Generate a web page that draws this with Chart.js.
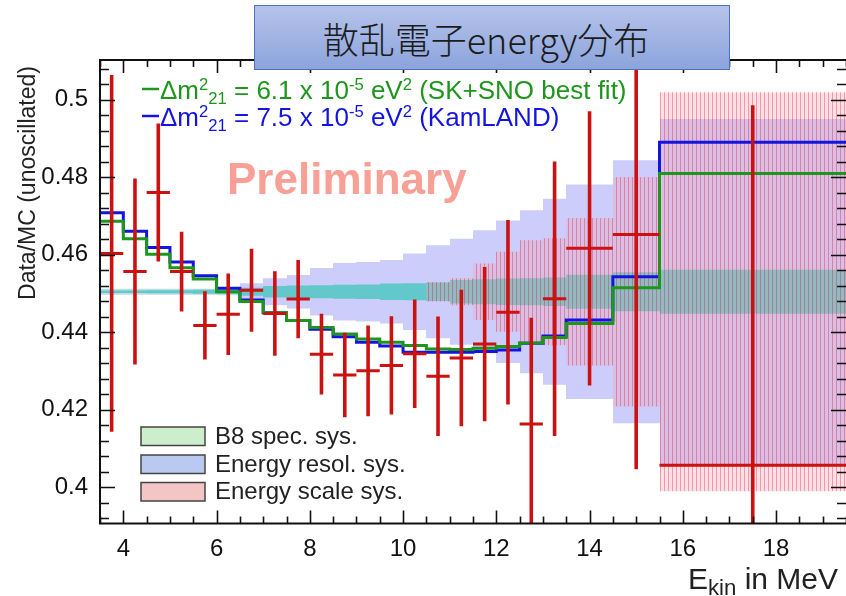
<!DOCTYPE html>
<html>
<head>
<meta charset="utf-8">
<script src="https://cdn.jsdelivr.net/npm/chart.js@4/dist/chart.umd.min.js"></script>
<style>
  html, body { margin: 0; padding: 0; background: #fff; }
  #wrap { position: relative; width: 846px; height: 596px; overflow: hidden; }
  #c { position: absolute; left: 0; top: 0; }
  #title {
    position: absolute; left: 254px; top: 5px; width: 476px; height: 65px;
    box-sizing: border-box; border: 1px solid #4d72c2;
    background: linear-gradient(#b5c3ea, #8ca4dc);
    font-family: "Noto Sans CJK JP", sans-serif; font-weight: 300; font-size: 36px; color: #1c1c1c;
    display: flex; align-items: center; justify-content: center; padding-right: 12px;
  }
</style>
</head>
<body>
<div id="wrap">
  <canvas id="c" width="846" height="596"></canvas>
  <div id="title">散乱電子energy分布</div>
</div>
<script>
// Bin edges of the kinetic-energy histogram (MeV)
const binEdges = [3.5, 4, 4.5, 5, 5.5, 6, 6.5, 7, 7.5, 8, 8.5, 9, 9.5, 10, 10.5, 11, 11.5, 12, 12.5, 13, 13.5, 14.5, 15.5, 19.5];

// Measured Data/MC ratio per bin and its statistical error
const dataValues = [0.4603, 0.4556, 0.4760, 0.4556, 0.4417, 0.4446, 0.4508, 0.4448, 0.4485, 0.4343, 0.4289, 0.4300,
                    0.4314, 0.4344, 0.4286, 0.4333, 0.4369, 0.4451, 0.4163, 0.4486, 0.4616, 0.4652, 0.4056];
const dataErrors = [0.0460, 0.0240, 0.0178, 0.0103, 0.0088, 0.0105, 0.0107, 0.0109, 0.0101, 0.0104, 0.0109, 0.0117,
                    0.0127, 0.0140, 0.0154, 0.0176, 0.0199, 0.0238, 0.0274, 0.0354, 0.0354, 0.0606, 0.0929];

// Oscillation expectations per bin
const fitSKSNO = [0.4686, 0.4641, 0.4601, 0.4566, 0.4537, 0.4504, 0.4479, 0.4450, 0.4430, 0.4412, 0.4395, 0.4382,
                  0.4374, 0.4365, 0.4356, 0.4355, 0.4358, 0.4363, 0.4372, 0.4386, 0.4422, 0.4514, 0.4809];
const fitKamLAND = [0.4708, 0.4660, 0.4618, 0.4581, 0.4545, 0.4513, 0.4483, 0.4450, 0.4430, 0.4407, 0.4388, 0.4374,
                    0.4364, 0.4348, 0.4348, 0.4348, 0.4350, 0.4354, 0.4371, 0.4390, 0.4431, 0.4543, 0.4890];

// Systematic bands: common centre and half-widths per bin
const bandCenter = 0.4504;
const b8SpecHalf = [0.0008, 0.0008, 0.0008, 0.0008, 0.0008, 0.0009, 0.0010, 0.0015, 0.0016, 0.0017, 0.0018, 0.0019,
                    0.0021, 0.0022, 0.0024, 0.0030, 0.0032, 0.0034, 0.0035, 0.0037, 0.0044, 0.0050, 0.0057];
const energyResolHalf = [0.0003, 0.0003, 0.0004, 0.0004, 0.0005, 0.0006, 0.0022, 0.0035, 0.0043, 0.0061, 0.0074, 0.0077,
                         0.0082, 0.0099, 0.0120, 0.0137, 0.0159, 0.0184, 0.0210, 0.0240, 0.0277, 0.0339, 0.0446];
const energyScaleHalf = [0, 0, 0, 0, 0, 0, 0, 0, 0, 0, 0, 0,
                         0, 0, 0.0025, 0.0035, 0.0073, 0.0103, 0.0133, 0.0138, 0.0190, 0.0296, 0.0515];

// Axis tick labels
const xTickValues = [4, 6, 8, 10, 12, 14, 16, 18];
const yTickValues = [0.4, 0.42, 0.44, 0.46, 0.48, 0.5];

const FONT = '"Liberation Sans", Arial, sans-serif';
const RED = '#cc1111';
const GREEN = '#1e961e';
const BLUE = '#1414e0';

const binCenters = binEdges.slice(0, -1).map((e, i) => (e + binEdges[i + 1]) / 2);
const stepPoints = vals => binEdges.map((e, i) => ({ x: e, y: vals[Math.min(i, vals.length - 1)] }));

// vertical pink stripes for the energy-scale band
function makeStripes() {
  const c = document.createElement('canvas');
  c.width = 4; c.height = 4;
  const g = c.getContext('2d');
  g.fillStyle = 'rgba(245,160,178,0.32)'; g.fillRect(1, 0, 3, 4);
  g.fillStyle = 'rgba(228,70,100,0.55)'; g.fillRect(0, 0, 1, 4);
  return g.createPattern(c, 'repeat');
}

function bandPath(ctx, x, y, half) {
  ctx.beginPath();
  const n = half.length;
  for (let i = 0; i < n; i++) {
    const x0 = Math.round(x.getPixelForValue(binEdges[i]));
    const x1 = Math.round(x.getPixelForValue(binEdges[i + 1]));
    const yy = y.getPixelForValue(bandCenter + half[i]);
    if (i === 0) ctx.moveTo(x0, yy); else ctx.lineTo(x0, yy);
    ctx.lineTo(x1, yy);
  }
  for (let i = n - 1; i >= 0; i--) {
    const x0 = Math.round(x.getPixelForValue(binEdges[i]));
    const x1 = Math.round(x.getPixelForValue(binEdges[i + 1]));
    const yy = y.getPixelForValue(bandCenter - half[i]);
    ctx.lineTo(x1, yy);
    ctx.lineTo(x0, yy);
  }
  ctx.closePath();
}

// text with super/subscripts: parts are [text, shift] with shift 1 = sup, -1 = sub
function richText(ctx, x, y, parts, size, color, small = 0.64) {
  ctx.fillStyle = color;
  ctx.textBaseline = 'alphabetic';
  ctx.textAlign = 'left';
  let cx = x;
  for (const [t, s] of parts) {
    const fs = s ? size * small : size;
    ctx.font = `${fs}px ${FONT}`;
    const dy = s === 1 ? -size * 0.36 : (s === -1 ? size * 0.2 : 0);
    ctx.fillText(t, cx, y + dy);
    cx += ctx.measureText(t).width;
  }
  return cx;
}

function richWidth(ctx, parts, size, small = 0.64) {
  let w = 0;
  for (const [t, s] of parts) {
    ctx.font = `${s ? size * small : size}px ${FONT}`;
    w += ctx.measureText(t).width;
  }
  return w;
}

const bandsPlugin = {
  id: 'bands',
  beforeDatasetsDraw(chart) {
    const { ctx, chartArea: a, scales: { x, y } } = chart;
    ctx.save();
    // watermark
    ctx.font = `bold 44px ${FONT}`;
    ctx.fillStyle = '#f8a096';
    ctx.textBaseline = 'alphabetic';
    ctx.fillText('Preliminary', 227, 194);

    ctx.beginPath();
    ctx.rect(a.left, a.top, a.right - a.left, a.bottom - a.top);
    ctx.clip();
    // energy resolution
    bandPath(ctx, x, y, energyResolHalf);
    ctx.fillStyle = '#cdcdfb';
    ctx.fill();
    // B8 spectrum: pale on its own, teal where it overlaps the resolution band
    bandPath(ctx, x, y, b8SpecHalf);
    ctx.fillStyle = '#bcdde2';
    ctx.fill();
    ctx.save();
    bandPath(ctx, x, y, energyResolHalf);
    ctx.clip();
    bandPath(ctx, x, y, b8SpecHalf);
    ctx.fillStyle = '#62c8cc';
    ctx.fill();
    ctx.restore();
    // energy scale
    bandPath(ctx, x, y, energyScaleHalf);
    ctx.fillStyle = makeStripes();
    ctx.fill();
    ctx.restore();
  }
};

const errorBarPlugin = {
  id: 'errorBars',
  afterDatasetsDraw(chart) {
    const { ctx, chartArea: a, scales: { x, y } } = chart;
    ctx.save();
    ctx.beginPath();
    ctx.rect(a.left, a.top, a.right - a.left, a.bottom - a.top);
    ctx.clip();
    ctx.strokeStyle = RED;
    ctx.lineCap = 'butt';
    dataValues.forEach((v, i) => {
      const xc = x.getPixelForValue(binCenters[i]);
      ctx.lineWidth = 3.6;
      ctx.beginPath();
      ctx.moveTo(xc, y.getPixelForValue(v + dataErrors[i]));
      ctx.lineTo(xc, y.getPixelForValue(v - dataErrors[i]));
      ctx.stroke();
      ctx.lineWidth = 3;
      ctx.beginPath();
      ctx.moveTo(x.getPixelForValue(binEdges[i]), y.getPixelForValue(v));
      ctx.lineTo(x.getPixelForValue(binEdges[i + 1]), y.getPixelForValue(v));
      ctx.stroke();
    });
    ctx.restore();
  }
};

const framePlugin = {
  id: 'frame',
  afterDraw(chart) {
    const { ctx, chartArea: a, scales: { x, y } } = chart;
    ctx.save();
    ctx.strokeStyle = '#111';
    ctx.lineWidth = 2;
    ctx.beginPath();
    ctx.moveTo(a.right + 2, a.top);
    ctx.lineTo(a.left, a.top);
    ctx.lineTo(a.left, a.bottom);
    ctx.lineTo(a.right + 2, a.bottom);
    ctx.stroke();

    ctx.lineWidth = 1.6;
    ctx.beginPath();
    for (let k = 7; k <= 39; k++) {          // every 0.5 MeV
      const v = k * 0.5;
      const px = Math.round(x.getPixelForValue(v)) + 0.5;
      const len = (k % 4 === 0) ? 13 : 7;
      ctx.moveTo(px, a.bottom); ctx.lineTo(px, a.bottom - len);
      ctx.moveTo(px, a.top); ctx.lineTo(px, a.top + len);
    }
    for (let k = 98; k <= 127; k++) {        // every 0.004
      const v = k * 0.004;
      const py = Math.round(y.getPixelForValue(v)) + 0.5;
      const len = (k % 5 === 0) ? 15 : 9;
      ctx.moveTo(a.left, py); ctx.lineTo(a.left + len, py);
      ctx.moveTo(a.right, py); ctx.lineTo(a.right - len, py);
    }
    ctx.stroke();

    // axis titles
    ctx.fillStyle = '#222';
    ctx.save();
    ctx.translate(29, 66);
    ctx.rotate(-Math.PI / 2);
    ctx.font = `23px ${FONT}`;
    ctx.textAlign = 'right';
    ctx.textBaseline = 'middle';
    ctx.fillText('Data/MC (unoscillated)', 0, 0);
    ctx.restore();

    const xTitle = [['E', 0], ['kin', -1], [' in MeV', 0]];
    const wT = richWidth(ctx, xTitle, 30, 0.74);
    richText(ctx, 838 - wT, 589, xTitle, 30, '#222', 0.74);

    // fit legend
    const leg = [
      { color: GREEN, y: 99, parts: [['Δm', 0], ['2', 1], ['21', -1], [' = 6.1 x 10', 0], ['-5', 1], [' eV', 0], ['2', 1], [' (SK+SNO best fit)', 0]] },
      { color: BLUE, y: 126, parts: [['Δm', 0], ['2', 1], ['21', -1], [' = 7.5 x 10', 0], ['-5', 1], [' eV', 0], ['2', 1], [' (KamLAND)', 0]] }
    ];
    leg.forEach(r => {
      ctx.strokeStyle = r.color;
      ctx.lineWidth = 2.5;
      ctx.beginPath();
      ctx.moveTo(142, r.y - 10); ctx.lineTo(159, r.y - 10);
      ctx.stroke();
      richText(ctx, 160, r.y, r.parts, 26, r.color);
    });

    // systematics legend
    const rows = [
      { label: 'B8 spec. sys.', fill: '#cdeecd', top: 427 },
      { label: 'Energy resol. sys.', fill: '#b9c9f0', top: 455 },
      { label: 'Energy scale sys.', fill: '#f3c5c5', top: 482.5 }
    ];
    rows.forEach(r => {
      ctx.fillStyle = r.fill;
      ctx.fillRect(141, r.top, 64, 18.5);
      ctx.strokeStyle = '#444';
      ctx.lineWidth = 1.5;
      ctx.strokeRect(141, r.top, 64, 18.5);
      ctx.fillStyle = '#222';
      ctx.font = `24px ${FONT}`;
      ctx.textAlign = 'left';
      ctx.textBaseline = 'middle';
      ctx.fillText(r.label, 215, r.top + 10);
    });
    ctx.restore();
  }
};

new Chart(document.getElementById('c'), {
  type: 'line',
  data: {
    datasets: [
      { label: 'SK+SNO best fit', data: stepPoints(fitSKSNO), stepped: 'before', borderColor: GREEN,
        borderWidth: 3, pointRadius: 0, fill: false, borderJoinStyle: 'miter' },
      { label: 'KamLAND', data: stepPoints(fitKamLAND), stepped: 'before', borderColor: BLUE,
        borderWidth: 3, pointRadius: 0, fill: false, borderJoinStyle: 'miter' },
      { label: 'Data', data: binCenters.map((c, i) => ({ x: c, y: dataValues[i] })), showLine: false,
        pointRadius: 0, borderColor: RED }
    ]
  },
  options: {
    responsive: false,
    devicePixelRatio: 1,
    animation: false,
    layout: { padding: { top: 60, right: 0, left: 0, bottom: 0 } },
    plugins: { legend: { display: false }, tooltip: { enabled: false }, title: { display: false } },
    scales: {
      x: {
        type: 'linear', min: 3.5, max: 19.5,
        afterBuildTicks: s => { s.ticks = xTickValues.map(v => ({ value: v })); },
        afterFit: s => { s.height = 72.5; },
        grid: { display: false, drawTicks: false },
        border: { display: false },
        ticks: { font: { family: FONT, size: 24 }, color: '#111', padding: 11, autoSkip: false, maxRotation: 0 }
      },
      y: {
        type: 'linear', min: 0.3906, max: 0.5102,
        afterBuildTicks: s => { s.ticks = yTickValues.map(v => ({ value: v })); },
        afterFit: s => { s.width = 100; },
        grid: { display: false, drawTicks: false },
        border: { display: false },
        ticks: { font: { family: FONT, size: 24 }, color: '#111', padding: 12,
                 callback: v => String(+Number(v).toFixed(2)) }
      }
    }
  },
  plugins: [bandsPlugin, errorBarPlugin, framePlugin]
});
</script>
</body>
</html>
